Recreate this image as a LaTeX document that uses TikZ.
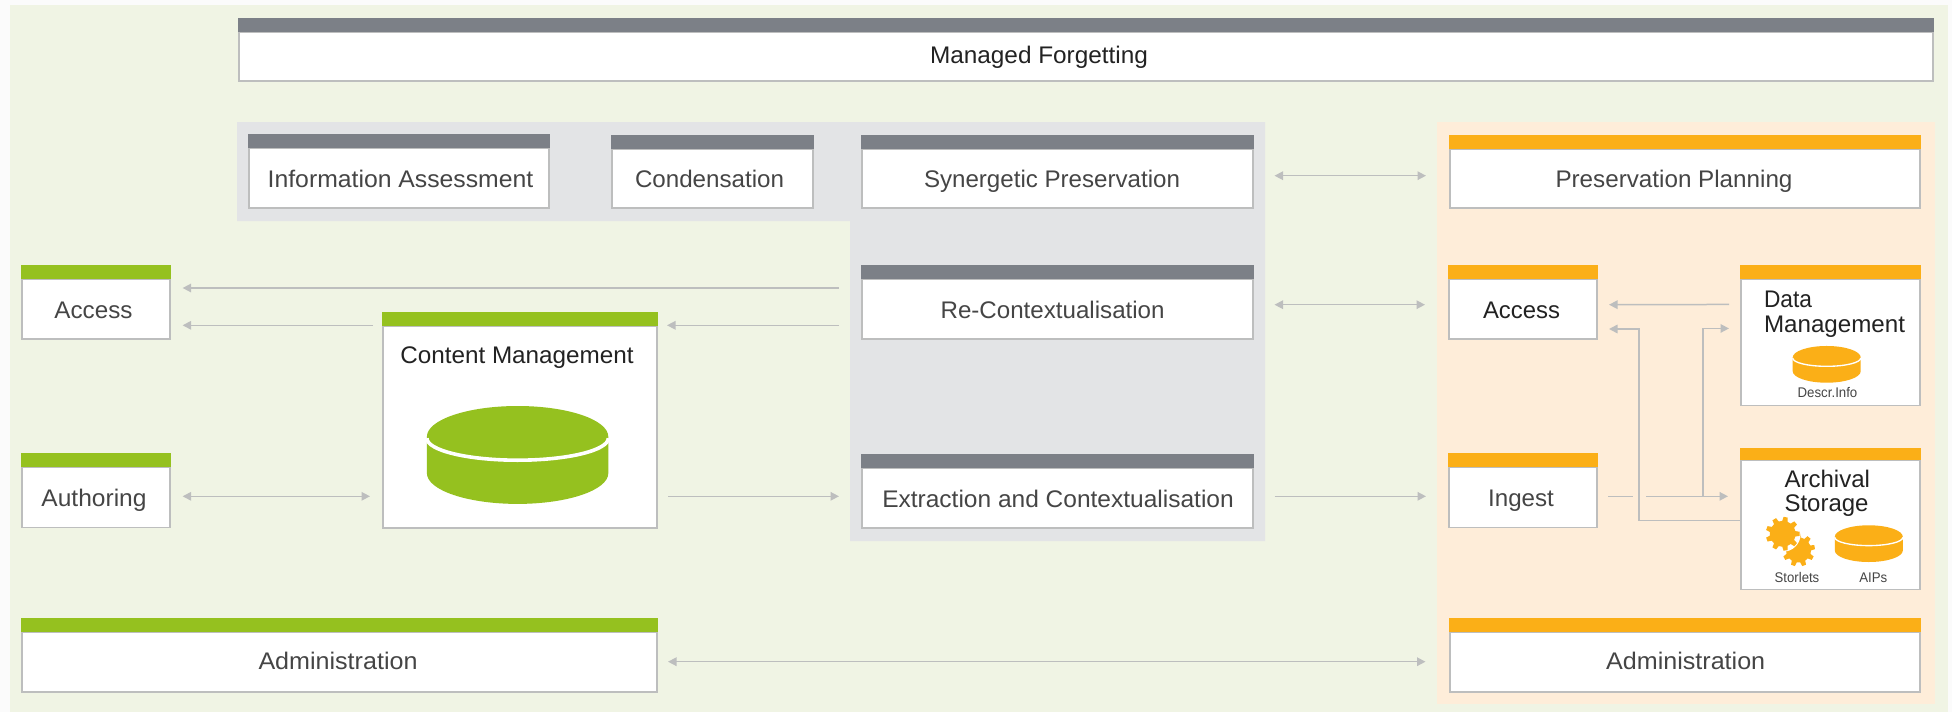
\documentclass[tikz,border=0pt]{standalone}
\usepackage{fontspec}
\usepackage{graphicx}
\setmainfont{Liberation Sans}
\usetikzlibrary{arrows.meta}
\definecolor{pagec}{HTML}{FBFBFB}
\definecolor{greenbg}{HTML}{F0F4E4}
\definecolor{peachbg}{HTML}{FEEDD9}
\definecolor{greybg}{HTML}{E3E4E6}
\definecolor{barg}{HTML}{7C8087}
\definecolor{barl}{HTML}{95C11F}
\definecolor{baro}{HTML}{FBAF17}
\definecolor{linec}{HTML}{BDBEBE}
\definecolor{txt}{HTML}{454545}
\definecolor{txd}{HTML}{222222}
\tikzset{
  panelbody/.style={draw=linec,fill=white,line width=1.3pt,inner sep=0pt,outer sep=0pt,anchor=north west},
  panelbar/.style={inner sep=0pt,outer sep=0pt,anchor=north west},
  lbl/.style={inner sep=0pt,outer sep=0pt,anchor=base,font=\fontsize{24}{24}\selectfont},
  tiny lbl/.style={inner sep=0pt,outer sep=0pt,anchor=base,font=\fontsize{14}{14}\selectfont},
  wire/.style={draw=linec,line width=1.5pt},
  one/.style={wire,-{Triangle[length=8.5pt,width=8.5pt]}},
  both/.style={wire,{Triangle[length=8.5pt,width=8.5pt]}-{Triangle[length=8.5pt,width=8.5pt]}},
}
% name, x0, x1, y bar top, y bar bottom, y bottom, colour
\newcommand{\panel}[7]{%
  \node[panelbody,minimum width={(#3-#2-2)*1pt},minimum height={(#6-#5)*1pt}] (#1) at (#2+1,#5) {};
  \node[panelbar,fill=#7,minimum width={(#3-#2)*1pt},minimum height={(#5-#4)*1pt}] (#1-bar) at (#2,#4) {};
}
% name, centre x, baseline y, width, colour, text
\newcommand{\lab}[6]{\node[lbl,text=#5] (#1) at (#2,#3) {\resizebox{#4pt}{\height}{#6}};}
\newcommand{\tlab}[6]{\node[tiny lbl,text=#5] (#1) at (#2,#3) {\resizebox{#4pt}{\height}{#6}};}
% centre x, top-ellipse centre y, scale, colour
\newcommand{\disk}[4]{%
  \begin{scope}[shift={(#1,#2)},scale=#3]
    \fill[#4] (-90.7,0) arc[start angle=180,end angle=360,x radius=90.7,y radius=30.7]
      -- (90.7,36.5) arc[start angle=0,end angle=180,x radius=90.7,y radius=30.7] -- cycle;
    \draw[white,line width=#3*3.6pt] (-90.7,1.5) arc[start angle=180,end angle=0,x radius=90.7,y radius=22];
  \end{scope}}
% centre x, centre y, outer radius, fill, rotation
\newcommand{\gear}[5]{%
  \begin{scope}[shift={(#1,#2)},rotate=#5]
    \fill[#4] (-12:#3*0.76) \foreach \a in {0,40,...,320}{
       -- ({\a-12}:#3*0.76) -- ({\a-7}:#3) -- ({\a+7}:#3) -- ({\a+12}:#3*0.76)} -- cycle;
  \end{scope}}
\begin{document}
\begin{tikzpicture}[x=1pt,y=-1pt]
\useasboundingbox (0,0) rectangle (1952,712);
\fill[pagec] (0,0) rectangle (1952,712);
\fill[greenbg] (10,5) rectangle (1948,712);
\fill[greybg] (237,122) -- (1265,122) -- (1265,541) -- (850,541) -- (850,221) -- (237,221) -- cycle;
\fill[peachbg] (1437,122) rectangle (1935,704);

\panel{forget}{238}{1934}{18}{32}{81}{barg}
\panel{info}{248}{550}{134}{148}{208}{barg}
\panel{cond}{611}{814}{135}{149}{208}{barg}
\panel{syn}{861}{1254}{135}{149}{208}{barg}
\panel{recon}{861}{1254}{265}{279}{339}{barg}
\panel{ext}{861}{1254}{454}{468}{528}{barg}
\panel{pres}{1449}{1921}{135}{149}{208}{baro}
\panel{accR}{1448}{1598}{265}{279}{339}{baro}
\panel{data}{1740}{1921}{265}{279}{405.5}{baro}
\panel{ing}{1448}{1598}{453}{467}{527.5}{baro}
\panel{arch}{1740}{1921}{448}{460}{589.5}{baro}
\panel{admR}{1449}{1921}{618}{632}{692}{baro}
\panel{accG}{21}{171}{265}{279}{339}{barl}
\panel{auth}{21}{171}{453}{467}{527.5}{barl}
\panel{admG}{21}{658}{618}{632}{692}{barl}
\panel{cm}{382}{658}{312}{326}{528}{barl}

\lab{t-forget}{1039}{63}{218}{txd}{Managed Forgetting}
\lab{t-info}{400.5}{187.3}{265.6}{txt}{Information Assessment}
\lab{t-cond}{709.5}{187.3}{149}{txt}{Condensation}
\lab{t-syn}{1052}{187.3}{256}{txt}{Synergetic Preservation}
\lab{t-recon}{1052.6}{318.3}{224}{txt}{Re-Contextualisation}
\lab{t-ext}{1058}{507.3}{351.5}{txt}{Extraction and Contextualisation}
\lab{t-pres}{1674}{187.3}{237}{txt}{Preservation Planning}
\lab{t-accR}{1521.5}{318.7}{77}{txd}{Access}
\lab{t-ing}{1521}{506.7}{65.7}{txt}{Ingest}
\lab{t-admR}{1685.7}{669.5}{159}{txt}{Administration}
\lab{t-accG}{93.5}{318}{78}{txt}{Access}
\lab{t-auth}{94}{506}{105}{txt}{Authoring}
\lab{t-admG}{338}{669.5}{159}{txt}{Administration}
\lab{t-cm}{517}{363}{233.4}{txd}{Content Management}
\node[inner sep=0pt,outer sep=0pt,anchor=north west,align=left,text=txd,font=\fontsize{24}{24.3}\selectfont] (t-data) at (1764,291.2) {\resizebox{48pt}{\height}{Data}\\\resizebox{141pt}{\height}{Management}};
\node[inner sep=0pt,outer sep=0pt,anchor=north west,align=left,text=txd,font=\fontsize{24}{24.3}\selectfont] (t-arch) at (1784.5,470.2) {\resizebox{85.5pt}{\height}{Archival}\\\resizebox{84pt}{\height}{Storage}};
\tlab{t-descr}{1827.5}{397.3}{59.7}{txt}{Descr.Info}
\tlab{t-stor}{1797}{582}{44.6}{txt}{Storlets}
\tlab{t-aips}{1873.3}{582}{28}{txt}{AIPs}

\disk{517.6}{436.7}{1}{barl}
\disk{1826.7}{357.5}{0.375}{baro}
\disk{1868.8}{536.8}{0.375}{baro}

\gear{1798.5}{550}{16.5}{baro}{10}
\fill[white] (1782.7,533.8) circle[radius=18];
\gear{1782.7}{533.8}{17}{baro}{0}

\coordinate (busL) at (1639,400);
\coordinate (ingGap) at (1646,496.3);
\coordinate (branch) at (1703,496.3);

\draw[both] ([xshift=21.5pt,yshift=2.8pt]syn.east) -- ([xshift=-24pt,yshift=2.8pt]pres.west);
\draw[both] ([xshift=21.5pt,yshift=4.3pt]recon.east) -- ([xshift=-24pt,yshift=4.3pt]accR.west);
\draw[one] ([xshift=21.5pt,yshift=1.7pt]ext.east) -- ([xshift=-23pt,yshift=0.95pt]ing.west);
\draw[both] ([xshift=11pt,yshift=0.3pt]admG.east) -- ([xshift=-24.5pt,yshift=0.3pt]admR.west);
\draw[one] ([xshift=-23pt,yshift=21pt]recon.west) -- ([xshift=12.6pt,yshift=21pt]accG.east);
\draw[one] ([xshift=-23pt,yshift=-16.3pt]recon.west) -- ([xshift=10pt,yshift=101.7pt]cm.east);
\draw[one] ([xshift=-10pt,yshift=101.7pt]cm.west) -- ([xshift=12.6pt,yshift=-16.3pt]accG.east);
\draw[both] ([xshift=12.6pt,yshift=0.95pt]auth.east) -- ([xshift=-13pt,yshift=-69.3pt]cm.west);
\draw[one] ([xshift=11pt,yshift=-69.3pt]cm.east) -- ([xshift=-23pt,yshift=1.7pt]ext.west);

\draw[one] ([xshift=-12pt,yshift=37.8pt]data.west) -- ([xshift=12pt,yshift=4.3pt]accR.east);
\draw[one] ([yshift=4.45pt]arch.west) -| (busL) |- ([xshift=12pt,yshift=-20pt]accR.east);
\draw[wire] ([xshift=11pt,yshift=0.95pt]ing.east) -- ([xshift=36pt,yshift=0.95pt]ing.east);
\draw[one] (ingGap) -- ([xshift=-13pt,yshift=28.45pt]arch.west);
\draw[one] (branch) |- ([xshift=-12pt,yshift=13.8pt]data.west);
\end{tikzpicture}
\end{document}
